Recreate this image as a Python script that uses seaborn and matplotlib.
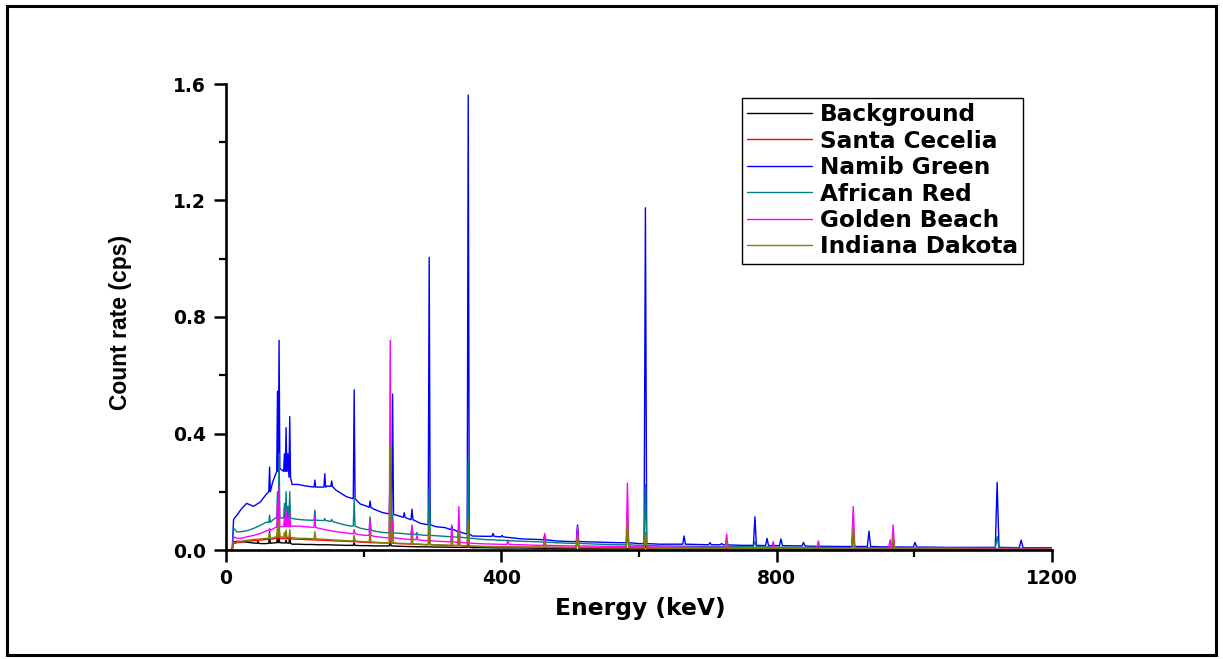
import numpy as np
import pandas as pd
import matplotlib
matplotlib.use("Agg")
import matplotlib.pyplot as plt
import seaborn as sns
from matplotlib import font_manager
from matplotlib.patches import Rectangle
from matplotlib.ticker import MultipleLocator, FormatStrFormatter

# ---- data -----------------------------------------------------------------
SAMPLES = ["Background", "Santa Cecelia", "Namib Green",
           "African Red", "Golden Beach", "Indiana Dakota"]
COLORS = ["#000000", "#FF0000", "#0000FF", "#008080", "#FF00FF", "#808000"]

# continuum sampling energies (keV)
ENERGY = [0, 9, 11, 16, 22, 30, 40, 50, 58, 68,
          72, 96, 105, 115, 125, 134, 148, 160, 175, 182,
          195, 205, 215, 228, 250, 262, 282, 290, 305, 318,
          333, 345, 358, 375, 395, 430, 455, 480, 500, 540,
          570, 600, 630, 700, 750, 800, 850, 900, 950, 1015,
          1050, 1100, 1150, 1200]

# continuum count rates (cps) at ENERGY
background = [0, 0, 0.028, 0.030, 0.029, 0.027, 0.024, 0.022, 0.022, 0.024,
              0.025, 0.020, 0.020, 0.019, 0.019, 0.018, 0.018, 0.017, 0.016, 0.016,
              0.015, 0.015, 0.014, 0.014, 0.013, 0.012, 0.011, 0.011, 0.010, 0.010,
              0.009, 0.009, 0.008, 0.008, 0.007, 0.007, 0.006, 0.006, 0.006, 0.005,
              0.005, 0.005, 0.004, 0.004, 0.004, 0.003, 0.003, 0.003, 0.003, 0.003,
              0.003, 0.003, 0.003, 0.003]
santa_cecelia = [0, 0, 0.022, 0.025, 0.027, 0.030, 0.032, 0.034, 0.036, 0.038,
                 0.040, 0.038, 0.037, 0.036, 0.035, 0.034, 0.033, 0.031, 0.030, 0.029,
                 0.027, 0.026, 0.025, 0.024, 0.022, 0.021, 0.019, 0.018, 0.017, 0.016,
                 0.015, 0.014, 0.013, 0.012, 0.011, 0.010, 0.010, 0.009, 0.009, 0.008,
                 0.008, 0.007, 0.007, 0.006, 0.006, 0.005, 0.005, 0.005, 0.004, 0.004,
                 0.004, 0.004, 0.003, 0.003]
namib_green = [0, 0, 0.105, 0.120, 0.140, 0.160, 0.150, 0.165, 0.190, 0.235,
               0.260, 0.225, 0.225, 0.220, 0.217, 0.216, 0.220, 0.205, 0.183, 0.178,
               0.158, 0.150, 0.140, 0.128, 0.118, 0.110, 0.092, 0.088, 0.080, 0.077,
               0.068, 0.058, 0.048, 0.047, 0.046, 0.038, 0.036, 0.031, 0.029, 0.027,
               0.025, 0.022, 0.020, 0.018, 0.016, 0.015, 0.013, 0.012, 0.011, 0.010,
               0.009, 0.009, 0.008, 0.008]
african_red = [0, 0, 0.075, 0.062, 0.063, 0.066, 0.074, 0.085, 0.095, 0.103,
               0.110, 0.108, 0.105, 0.103, 0.102, 0.102, 0.100, 0.094, 0.085, 0.082,
               0.075, 0.070, 0.065, 0.060, 0.058, 0.055, 0.052, 0.050, 0.049, 0.047,
               0.045, 0.043, 0.040, 0.036, 0.034, 0.030, 0.028, 0.025, 0.023, 0.020,
               0.018, 0.016, 0.014, 0.012, 0.011, 0.010, 0.009, 0.008, 0.008, 0.007,
               0.007, 0.006, 0.006, 0.006]
golden_beach = [0, 0, 0.045, 0.040, 0.040, 0.045, 0.050, 0.057, 0.065, 0.072,
                0.078, 0.082, 0.082, 0.080, 0.078, 0.075, 0.068, 0.063, 0.058, 0.056,
                0.052, 0.050, 0.047, 0.043, 0.040, 0.037, 0.034, 0.032, 0.030, 0.029,
                0.027, 0.025, 0.023, 0.021, 0.020, 0.018, 0.016, 0.015, 0.014, 0.013,
                0.012, 0.011, 0.010, 0.009, 0.008, 0.008, 0.007, 0.007, 0.006, 0.006,
                0.006, 0.005, 0.005, 0.005]
indiana_dakota = [0, 0, 0.025, 0.028, 0.030, 0.033, 0.036, 0.038, 0.040, 0.042,
                  0.045, 0.042, 0.040, 0.040, 0.039, 0.038, 0.036, 0.034, 0.032, 0.031,
                  0.029, 0.028, 0.027, 0.025, 0.023, 0.022, 0.020, 0.019, 0.018, 0.017,
                  0.016, 0.015, 0.013, 0.012, 0.011, 0.010, 0.009, 0.009, 0.008, 0.008,
                  0.007, 0.007, 0.006, 0.006, 0.005, 0.005, 0.005, 0.004, 0.004, 0.004,
                  0.004, 0.003, 0.003, 0.003]

# photopeaks: (energy keV, continuum under peak cps, peak top cps)
background_peaks = [(46.5, 0.023, 0.030), (63.3, 0.023, 0.063), (74.8, 0.025, 0.046),
                    (77.1, 0.025, 0.040), (87.3, 0.024, 0.034), (92.6, 0.023, 0.046),
                    (186.2, 0.016, 0.025), (238.6, 0.014, 0.030), (351.9, 0.009, 0.020),
                    (510.7, 0.006, 0.070), (609.3, 0.005, 0.015)]
santa_cecelia_peaks = [(74.8, 0.040, 0.060), (77.1, 0.040, 0.080), (87.3, 0.039, 0.050),
                       (186.2, 0.029, 0.045), (238.6, 0.024, 0.200), (295.2, 0.018, 0.050),
                       (338.3, 0.015, 0.040), (351.9, 0.013, 0.060), (510.7, 0.009, 0.040),
                       (583.2, 0.008, 0.060), (609.3, 0.007, 0.040), (911.2, 0.005, 0.050),
                       (969.0, 0.004, 0.030)]
namib_green_peaks = [(63.3, 0.200, 0.285), (74.8, 0.270, 0.545), (77.1, 0.280, 0.720),
                     (84.9, 0.270, 0.330), (87.3, 0.270, 0.420), (89.8, 0.270, 0.330),
                     (92.6, 0.250, 0.458), (129.1, 0.216, 0.240), (143.5, 0.216, 0.262),
                     (153.5, 0.218, 0.237), (186.2, 0.176, 0.550), (209.3, 0.146, 0.168),
                     (238.6, 0.124, 0.300), (242.0, 0.122, 0.535), (258.9, 0.112, 0.128),
                     (270.2, 0.104, 0.140), (295.2, 0.087, 1.005), (328.0, 0.070, 0.082),
                     (338.3, 0.062, 0.075), (351.9, 0.055, 1.562), (388.0, 0.047, 0.057),
                     (401.0, 0.045, 0.050), (463.0, 0.035, 0.051), (510.7, 0.029, 0.086),
                     (583.2, 0.025, 0.050), (609.3, 0.022, 1.175), (665.5, 0.020, 0.048),
                     (703.1, 0.018, 0.025), (720.0, 0.018, 0.022), (768.4, 0.016, 0.114),
                     (786.0, 0.015, 0.040), (806.2, 0.015, 0.038), (839.0, 0.014, 0.026),
                     (934.1, 0.012, 0.065), (1001.0, 0.010, 0.026), (1120.3, 0.009, 0.232),
                     (1155.2, 0.008, 0.034)]
african_red_peaks = [(63.3, 0.095, 0.120), (74.8, 0.110, 0.200), (77.1, 0.110, 0.332),
                     (84.9, 0.110, 0.160), (87.3, 0.110, 0.200), (89.8, 0.110, 0.150),
                     (92.6, 0.110, 0.200), (129.1, 0.102, 0.137), (143.5, 0.101, 0.108),
                     (153.5, 0.098, 0.105), (186.2, 0.082, 0.172), (209.3, 0.069, 0.114),
                     (238.6, 0.059, 0.300), (242.0, 0.058, 0.120), (270.2, 0.054, 0.080),
                     (277.4, 0.053, 0.060), (295.2, 0.050, 0.210), (338.3, 0.044, 0.070),
                     (351.9, 0.041, 0.310), (510.7, 0.023, 0.050), (583.2, 0.018, 0.090),
                     (609.3, 0.016, 0.224), (768.4, 0.011, 0.030), (911.2, 0.008, 0.050),
                     (1120.3, 0.006, 0.046)]
golden_beach_peaks = [(63.3, 0.068, 0.074), (74.8, 0.078, 0.160), (77.1, 0.080, 0.217),
                      (84.9, 0.080, 0.110), (87.3, 0.080, 0.137), (89.8, 0.080, 0.110),
                      (92.6, 0.080, 0.130), (129.1, 0.078, 0.114), (186.2, 0.056, 0.070),
                      (209.3, 0.050, 0.105), (238.6, 0.042, 0.720), (242.0, 0.042, 0.100),
                      (270.2, 0.036, 0.086), (277.4, 0.035, 0.050), (295.2, 0.032, 0.070),
                      (328.0, 0.028, 0.086), (338.3, 0.026, 0.149), (351.9, 0.024, 0.060),
                      (409.5, 0.019, 0.034), (463.0, 0.016, 0.057), (510.7, 0.014, 0.080),
                      (583.2, 0.012, 0.230), (609.3, 0.011, 0.040), (727.3, 0.009, 0.055),
                      (794.9, 0.008, 0.029), (860.6, 0.007, 0.031), (911.2, 0.007, 0.149),
                      (964.8, 0.006, 0.035), (969.0, 0.006, 0.086)]
indiana_dakota_peaks = [(63.3, 0.040, 0.057), (74.8, 0.045, 0.080), (77.1, 0.045, 0.103),
                        (84.9, 0.044, 0.060), (87.3, 0.044, 0.069), (92.6, 0.043, 0.070),
                        (129.1, 0.039, 0.063), (186.2, 0.031, 0.050), (209.3, 0.028, 0.057),
                        (238.6, 0.024, 0.360), (242.0, 0.024, 0.060), (270.2, 0.021, 0.050),
                        (295.2, 0.019, 0.090), (328.0, 0.016, 0.040), (338.3, 0.016, 0.070),
                        (351.9, 0.014, 0.100), (463.0, 0.009, 0.030), (510.7, 0.008, 0.050),
                        (583.2, 0.007, 0.107), (609.3, 0.007, 0.060), (727.3, 0.006, 0.030),
                        (911.2, 0.004, 0.080), (969.0, 0.004, 0.046)]

CONTINUA = [background, santa_cecelia, namib_green, african_red, golden_beach, indiana_dakota]
PEAKS = [background_peaks, santa_cecelia_peaks, namib_green_peaks,
         african_red_peaks, golden_beach_peaks, indiana_dakota_peaks]


def spectrum(continuum, peaks):
    """Merge continuum samples and narrow triangular photopeaks into one trace."""
    e = list(ENERGY)
    c = list(continuum)
    for pe, base, top in peaks:
        hw = 1.0 + 0.0015 * pe          # detector resolution grows with energy
        e += [pe - hw, pe, pe + hw]
        c += [base, top, base]
    order = np.argsort(e, kind="stable")
    return np.asarray(e)[order], np.asarray(c)[order]


frames = []
for name, cont, pk in zip(SAMPLES, CONTINUA, PEAKS):
    e, c = spectrum(cont, pk)
    frames.append(pd.DataFrame({"Energy": e, "Rate": c, "Sample": name}))
df = pd.concat(frames, ignore_index=True)

# ---- style ----------------------------------------------------------------
sns.set_style("ticks")
plt.rcParams["font.family"] = ["DejaVu Sans"]
plt.rcParams["font.weight"] = "bold"
for key in ("text.color", "axes.labelcolor", "xtick.color", "ytick.color",
            "axes.edgecolor"):
    plt.rcParams[key] = "black"

installed = {f.name for f in font_manager.fontManager.ttflist}
label_family = "Liberation Sans Narrow" if "Liberation Sans Narrow" in installed else "Liberation Sans"

fig = plt.figure(figsize=(12.23, 6.59), dpi=100)
ax = fig.add_axes([226 / 1223, 109 / 659, 826 / 1223, 466 / 659])

sns.lineplot(data=df, x="Energy", y="Rate", hue="Sample", hue_order=SAMPLES,
             palette=COLORS, estimator=None, sort=False, linewidth=1.0, ax=ax)

ax.set_xlim(0, 1200)
ax.set_ylim(0, 1.6)
ax.xaxis.set_major_locator(MultipleLocator(400))
ax.xaxis.set_minor_locator(MultipleLocator(200))
ax.yaxis.set_major_locator(MultipleLocator(0.4))
ax.yaxis.set_minor_locator(MultipleLocator(0.2))
ax.yaxis.set_major_formatter(FormatStrFormatter("%.1f"))

for side in ("top", "right"):
    ax.spines[side].set_visible(False)
for side in ("left", "bottom"):
    ax.spines[side].set_linewidth(1.9)
    ax.spines[side].set_color("black")

ax.tick_params(which="major", direction="out", length=8.5, width=1.8,
               labelsize=13.5, color="black", labelcolor="black")
ax.tick_params(which="minor", direction="out", length=5, width=1.6, color="black")
ax.tick_params(axis="y", which="major", pad=6)
ax.tick_params(axis="x", which="major", pad=5)
for lab in ax.get_xticklabels() + ax.get_yticklabels():
    lab.set_fontweight("bold")

ax.set_xlabel("Energy (keV)", fontsize=16.8, fontweight="bold", va="center",
              color="black")
ax.xaxis.set_label_coords(0.501, -0.1266)
ax.set_ylabel("Count rate (cps)", fontsize=19.5 if label_family.endswith("Narrow") else 16.5,
              fontweight="bold", family=label_family, va="center", color="black")
ax.yaxis.set_label_coords(-0.128, 0.489)

handles, labels = ax.get_legend_handles_labels()
leg = ax.legend(handles, labels, loc="upper left", bbox_to_anchor=(0.6247, 0.970),
                borderaxespad=0, frameon=True, fancybox=False, edgecolor="black",
                framealpha=1, handlelength=2.8, handletextpad=0.35,
                borderpad=0.22, labelspacing=0.15,
                prop={"family": "DejaVu Sans", "weight": "bold", "size": 16.7})
leg.get_frame().set_linewidth(1.0)
for text in leg.get_texts():
    text.set_color("black")
for line in leg.get_lines():
    line.set_linewidth(1.0)

# outer frame around the whole figure
fig.patches.append(Rectangle((7 / 1223, 4 / 659), 1209 / 1223, 649 / 659,
                             transform=fig.transFigure, fill=False,
                             edgecolor="black", linewidth=2.2))

fig.savefig("out.png", dpi=100)
